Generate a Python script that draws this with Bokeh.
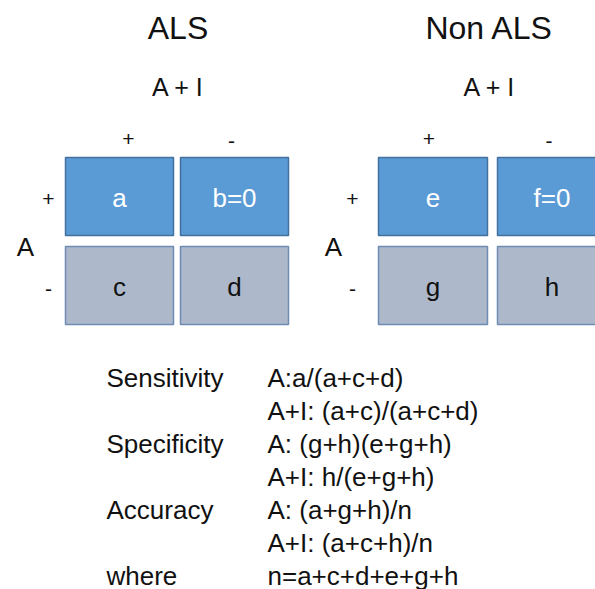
from bokeh.plotting import figure
from bokeh.models import Range1d
from bokeh.core.properties import value
from bokeh.embed import file_html
from bokeh.resources import INLINE

# ---- content ----
group_titles = ["ALS", "Non ALS"]
test_title = "A + I"
col_signs = ["+", "-"]
row_signs = ["+", "-"]
row_axis_label = "A"
cell_labels = [["a", "b=0", "c", "d"], ["e", "f=0", "g", "h"]]
metric_names = ["Sensitivity", "", "Specificity", "", "Accuracy", "", "where"]
metric_formulas = ["A:a/(a+c+d)", "A+I:  (a+c)/(a+c+d)", "A:  (g+h)(e+g+h)",
                   "A+I:  h/(e+g+h)", "A:  (a+g+h)/n", "A+I:  (a+c+h)/n",
                   "n=a+c+d+e+g+h"]

FONT = value("Liberation Sans")
BLUE, BLUE_EDGE = "#5B9BD5", "#41719C"
GREY, GREY_EDGE = "#ADB9CA", "#6E8BB4"
INK = "#111111"

p = figure(width=595, height=589, output_backend="svg", toolbar_location=None,
           x_range=Range1d(0, 595), y_range=Range1d(589, 0), min_border=0)
p.axis.visible = False
p.grid.visible = False
p.outline_line_color = None
p.background_fill_color = "white"

panel_x0 = [65, 378]
cell_w, gap_x = [108, 109], [7, 10]
row_top = [157, 246]
row_h = 78
title_shift = [1, -3]
plus_shift = [9, -4]
row_sign_off = [-17, -26]
a_off = [-40, -45]

for g in range(2):
    x0 = panel_x0[g]
    lefts, rights, tops, bots, fills, edges = [], [], [], [], [], []
    lx, ly, lc = [], [], []
    for r in range(2):
        for c in range(2):
            l = x0 + c * (cell_w[g] + gap_x[g])
            rr = l + cell_w[g]
            t = row_top[r]
            b = t + row_h
            lefts.append(l); rights.append(rr); tops.append(t); bots.append(b)
            fills.append(BLUE if r == 0 else GREY)
            edges.append(BLUE_EDGE if r == 0 else GREY_EDGE)
            lx.append((l + rr) / 2); ly.append((t + b) / 2 + 1)
            lc.append("white" if r == 0 else INK)
    p.quad(left=lefts, right=rights, top=tops, bottom=bots, fill_color=fills,
           line_color=edges, line_width=1.5)
    p.text(x=lx, y=ly, text=cell_labels[g], text_color=lc, text_font=FONT,
           text_font_size="26px", text_align="center", text_baseline="middle")
    gw = 2 * cell_w[g] + gap_x[g]
    cx = x0 + gw / 2 + title_shift[g]
    p.text(x=[cx], y=[27], text=[group_titles[g]], text_font=FONT,
           text_font_size="32px", text_align="center", text_baseline="middle",
           text_color=INK)
    p.text(x=[cx], y=[86], text=[test_title], text_font=FONT,
           text_font_size="25px", text_align="center", text_baseline="middle",
           text_color=INK)
    colx = [x0 + cell_w[g] / 2 + plus_shift[g],
            x0 + cell_w[g] + gap_x[g] + cell_w[g] / 2 - 3]
    p.text(x=colx, y=[138, 140], text=col_signs, text_font=FONT,
           text_font_size="21px", text_align="center", text_baseline="middle",
           text_color=INK)
    p.text(x=[x0 + row_sign_off[g]] * 2, y=[198, 288], text=row_signs, text_font=FONT,
           text_font_size="21px", text_align="center", text_baseline="middle",
           text_color=INK)
    p.text(x=[x0 + a_off[g]], y=[246], text=[row_axis_label], text_font=FONT,
           text_font_size="26px", text_align="center", text_baseline="middle",
           text_color=INK)

ys = [377 + i * 33 for i in range(len(metric_names))]
p.text(x=[106] * len(ys), y=ys, text=metric_names, text_font=FONT,
       text_font_size="26px", text_align="left", text_baseline="middle",
       text_color=INK)
p.text(x=[267] * len(ys), y=ys, text=metric_formulas, text_font=FONT,
       text_font_size="26px", text_align="left", text_baseline="middle",
       text_color=INK)

open("out.html", "w").write(file_html(p, INLINE))
